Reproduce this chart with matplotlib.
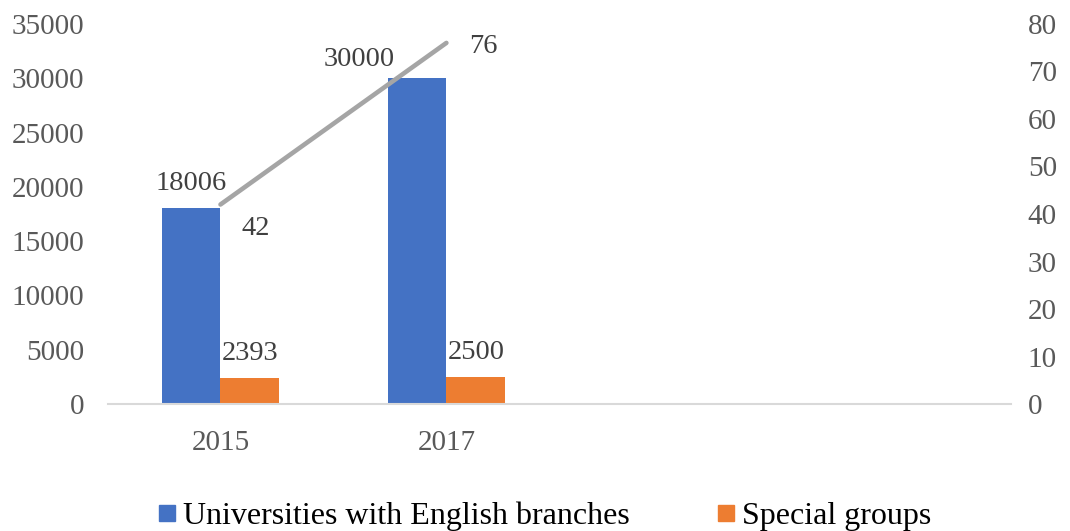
import matplotlib.pyplot as plt
from matplotlib.lines import Line2D

plt.rcParams['font.family'] = ['Liberation Serif', 'DejaVu Serif']

# categories (two trailing empty slots keep the category spacing)
years = ["2015", "2017", "", ""]
universities = [18006, 30000]
special_groups = [2393, 2500]
line_values = [42, 76]

blue = "#4472C4"
orange = "#ED7D31"
gray_line = "#A5A5A5"
tick_color = "#595959"
label_color = "#404040"

fig = plt.figure(figsize=(10.7, 5.31), dpi=100)
ax = fig.add_axes([0.1005, 0.239, 0.8445, 0.716])
ax2 = ax.twinx()

x = list(range(len(years)))
w = 0.26
xb = [i - w / 2 for i in range(len(universities))]
xo = [i + w / 2 for i in range(len(special_groups))]
ax.bar(xb, universities, width=w, color=blue, zorder=2)
ax.bar(xo, special_groups, width=w, color=orange, zorder=2)
ax2.plot(range(len(line_values)), line_values, color=gray_line, lw=3.3,
         solid_capstyle='round', zorder=3)

ax.set_xlim(-0.5, len(years) - 0.5)
ax.set_ylim(0, 35000)
ax2.set_ylim(0, 80)
ax.set_yticks(range(0, 35001, 5000))
ax2.set_yticks(range(0, 81, 10))
ax.set_xticks(x)
ax.set_xticklabels(years)

for a in (ax, ax2):
    for s in a.spines.values():
        s.set_visible(False)
    a.tick_params(length=0, labelsize=21, colors=tick_color)
ax.spines['bottom'].set_visible(True)
ax.spines['bottom'].set_color('#D9D9D9')
ax.spines['bottom'].set_linewidth(1.5)
ax.tick_params(axis='y', pad=17)
ax.tick_params(axis='x', pad=19)
ax2.tick_params(axis='y', pad=12)

# value labels
def label(axis, xv, yv, text, dx, dy):
    axis.annotate(text, (xv, yv), xytext=(dx, dy), textcoords='offset points',
                  ha='center', va='baseline', fontsize=20.5, color=label_color,
                  zorder=5)

label(ax, xb[0], universities[0], f"{universities[0]}", 0, 13.5)
label(ax, xb[1], universities[1], f"{universities[1]}", -42, 8.5)
label(ax, xo[0], special_groups[0], f"{special_groups[0]}", 0, 13)
label(ax, xo[1], special_groups[1], f"{special_groups[1]}", 0, 13)
label(ax2, 0, line_values[0], f"{line_values[0]}", 25.5, -22)
label(ax2, 1, line_values[1], f"{line_values[1]}", 26.5, -7.2)

handles = [
    Line2D([], [], marker='s', ls='none', color=blue, markersize=11),
    Line2D([], [], marker='s', ls='none', color=orange, markersize=11),
]
fig.legend(handles, ["Universities with English branches", "Special groups"],
           loc='center', bbox_to_anchor=(0.507, 0.027), ncol=2, frameon=False,
           fontsize=23, handletextpad=0.1, columnspacing=2.6, handlelength=0.8)

plt.savefig("out.png", dpi=100)
plt.close()
